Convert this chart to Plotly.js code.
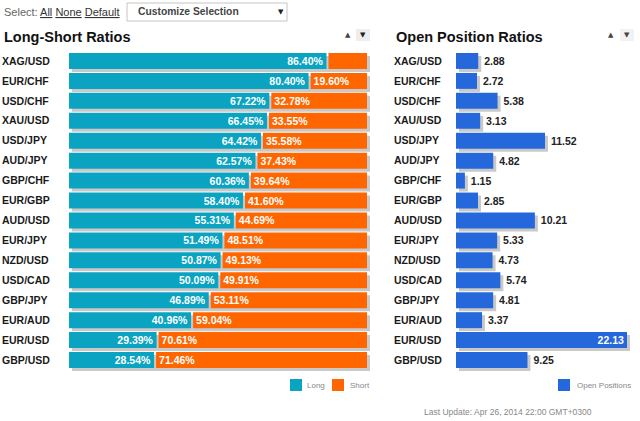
<!DOCTYPE html>
<html>
<head>
<meta charset="utf-8">
<script src="https://cdn.plot.ly/plotly-3.0.1.min.js"></script>
<style>
html,body{margin:0;padding:0;background:#fff;}
#chart{width:640px;height:421px;}
</style>
</head>
<body>
<div id="chart"></div>
<script>
// ---- data ----
const categories = ['XAG/USD','EUR/CHF','USD/CHF','XAU/USD','USD/JPY','AUD/JPY','GBP/CHF','EUR/GBP','AUD/USD','EUR/JPY','NZD/USD','USD/CAD','GBP/JPY','EUR/AUD','EUR/USD','GBP/USD'];
const longPct = [86.40,80.40,67.22,66.45,64.42,62.57,60.36,58.40,55.31,51.49,50.87,50.09,46.89,40.96,29.39,28.54];
const shortPct = [13.60,19.60,32.78,33.55,35.58,37.43,39.64,41.60,44.69,48.51,49.13,49.91,53.11,59.04,70.61,71.46];
const openPositions = [2.88,2.72,5.38,3.13,11.52,4.82,1.15,2.85,10.21,5.33,4.73,5.74,4.81,3.37,22.13,9.25];
const legendLabels = ['Long','Short','Open Positions'];
const footerText = 'Last Update: Apr 26, 2014 22:00 GMT+0300';

// ---- layout helpers ----
const W = 640, H = 421;
const px = x => x / W;
const py = y => 1 - y / H;
const TEAL = '#0aa3c2', ORANGE = '#ff6600', BLUE = '#2468dc', SHADOW = '#c9c9c9';
const FONT = 'Liberation Sans, Arial, sans-serif';

const leftX0 = 69, leftX1 = 367, rightX0 = 456, rightX1 = 627, sh = 3;
const rowTop = 51, rowBot = 370;
const totals = longPct.map((l, i) => l + shortPct[i]);
const gapUnits = 2 * 100 / (leftX1 - leftX0);
const maxOpen = Math.max(...openPositions);

const traces = [
  { type:'bar', orientation:'h', y:categories, x:totals, xaxis:'x', yaxis:'y',
    marker:{color:SHADOW}, hoverinfo:'skip', showlegend:false },
  { type:'bar', orientation:'h', y:categories, x:openPositions, xaxis:'x2', yaxis:'y',
    marker:{color:SHADOW}, hoverinfo:'skip', showlegend:false },
  { type:'bar', orientation:'h', name:legendLabels[0], y:categories, x:longPct, xaxis:'x3', yaxis:'y2',
    marker:{color:TEAL}, text:longPct.map(v => v.toFixed(2) + '%'),
    textposition:'inside', insidetextanchor:'end', constraintext:'none',
    insidetextfont:{family:FONT, size:10.5, color:'#fff', weight:'bold'}, showlegend:false },
  { type:'bar', orientation:'h', name:legendLabels[1], y:categories,
    base:longPct.map(v => v + gapUnits), x:shortPct.map(v => v - gapUnits), xaxis:'x3', yaxis:'y2',
    marker:{color:ORANGE}, text:shortPct.map(v => v >= 15 ? v.toFixed(2) + '%' : ''),
    textposition:'inside', insidetextanchor:'start', constraintext:'none',
    insidetextfont:{family:FONT, size:10.5, color:'#fff', weight:'bold'}, showlegend:false },
  { type:'bar', orientation:'h', name:legendLabels[2], y:categories, x:openPositions, xaxis:'x4', yaxis:'y3',
    marker:{color:BLUE},
    text:openPositions.map(v => (v === maxOpen ? '' : '\u00a0') + v.toFixed(2)),
    textposition:openPositions.map(v => v === maxOpen ? 'inside' : 'outside'),
    insidetextanchor:'end', constraintext:'none', cliponaxis:false,
    insidetextfont:{family:FONT, size:10.5, color:'#fff', weight:'bold'},
    outsidetextfont:{family:FONT, size:10.5, color:'#222', weight:'bold'}, showlegend:false }
];

const hiddenX = {visible:false, fixedrange:true, showgrid:false, zeroline:false};
const catAxis = {type:'category', categoryorder:'array', categoryarray:categories,
  autorange:'reversed', fixedrange:true, showgrid:false, zeroline:false, showline:false, ticks:''};

const labelFont = {family:FONT, size:10.5, color:'#1a1a1a', weight:'bold'};

const layout = {
  width:W, height:H, autosize:false,
  margin:{l:0, r:0, t:0, b:0},
  paper_bgcolor:'#fff', plot_bgcolor:'rgba(0,0,0,0)',
  bargap:0.2, barmode:'overlay', showlegend:false,
  font:{family:FONT, color:'#222'},
  xaxis: Object.assign({}, hiddenX, {domain:[px(leftX0+sh), px(leftX1+sh)], range:[0,100], anchor:'y'}),
  xaxis2:Object.assign({}, hiddenX, {domain:[px(rightX0+sh), px(rightX1+sh)], range:[0,maxOpen], anchor:'y'}),
  xaxis3:Object.assign({}, hiddenX, {domain:[px(leftX0), px(leftX1)], range:[0,100], anchor:'y2'}),
  xaxis4:Object.assign({}, hiddenX, {domain:[px(rightX0), px(rightX1)], range:[0,maxOpen], anchor:'y3'}),
  yaxis: Object.assign({}, catAxis, {domain:[py(rowBot+sh), py(rowTop+sh)], visible:false}),
  yaxis2:Object.assign({}, catAxis, {domain:[py(rowBot), py(rowTop)], anchor:'free', position:0,
    ticklabelposition:'inside', ticklabelstandoff:-2, tickfont:labelFont}),
  yaxis3:Object.assign({}, catAxis, {domain:[py(rowBot), py(rowTop)], anchor:'free', position:px(390),
    ticklabelposition:'inside', ticklabelstandoff:0, tickfont:labelFont}),
  shapes:[
    // dropdown box
    {type:'rect', xref:'paper', yref:'paper', x0:px(127), x1:px(287), y0:py(21), y1:py(3),
      line:{color:'#c4c4c4', width:1}, fillcolor:'#fff'},
    // arrow buttons
    {type:'rect', xref:'paper', yref:'paper', x0:px(356), x1:px(370), y0:py(41), y1:py(29),
      line:{width:0}, fillcolor:'#eeeeee'},
    {type:'rect', xref:'paper', yref:'paper', x0:px(620), x1:px(634), y0:py(41), y1:py(29),
      line:{width:0}, fillcolor:'#f2f2f2'},
    // legend swatches
    {type:'rect', xref:'paper', yref:'paper', x0:px(290), x1:px(302), y0:py(391), y1:py(379),
      line:{width:0}, fillcolor:TEAL},
    {type:'rect', xref:'paper', yref:'paper', x0:px(332), x1:px(344), y0:py(391), y1:py(379),
      line:{width:0}, fillcolor:ORANGE},
    {type:'rect', xref:'paper', yref:'paper', x0:px(558), x1:px(570), y0:py(391), y1:py(379),
      line:{width:0}, fillcolor:BLUE}
  ],
  annotations:[
    {xref:'paper', yref:'paper', x:px(2), y:py(12), xanchor:'left', yanchor:'middle', showarrow:false,
      text:'<span style="fill:#666">Select:</span> <span style="text-decoration:underline">All</span> <span style="text-decoration:underline">None</span> <span style="text-decoration:underline">Default</span>',
      font:{family:FONT, size:11, color:'#333'}},
    {xref:'paper', yref:'paper', x:px(136), y:py(12), xanchor:'left', yanchor:'middle', showarrow:false,
      text:'Customize Selection', font:{family:FONT, size:10.3, color:'#444', weight:'bold'}},
    {xref:'paper', yref:'paper', x:px(281), y:py(12), xanchor:'center', yanchor:'middle', showarrow:false,
      text:'▼', font:{family:'DejaVu Sans', size:7, color:'#222'}},
    {xref:'paper', yref:'paper', x:px(2), y:py(37), xanchor:'left', yanchor:'middle', showarrow:false,
      text:'Long-Short Ratios', font:{family:FONT, size:14.5, color:'#111', weight:'bold'}},
    {xref:'paper', yref:'paper', x:px(394), y:py(37), xanchor:'left', yanchor:'middle', showarrow:false,
      text:'Open Position Ratios', font:{family:FONT, size:14.5, color:'#111', weight:'bold'}},
    {xref:'paper', yref:'paper', x:px(348), y:py(35), xanchor:'center', yanchor:'middle', showarrow:false,
      text:'▲', font:{family:'DejaVu Sans', size:7, color:'#444'}},
    {xref:'paper', yref:'paper', x:px(363), y:py(35), xanchor:'center', yanchor:'middle', showarrow:false,
      text:'▼', font:{family:'DejaVu Sans', size:7, color:'#222'}},
    {xref:'paper', yref:'paper', x:px(611), y:py(35), xanchor:'center', yanchor:'middle', showarrow:false,
      text:'▲', font:{family:'DejaVu Sans', size:7, color:'#444'}},
    {xref:'paper', yref:'paper', x:px(627), y:py(35), xanchor:'center', yanchor:'middle', showarrow:false,
      text:'▼', font:{family:'DejaVu Sans', size:7, color:'#444'}},
    {xref:'paper', yref:'paper', x:px(305), y:py(385), xanchor:'left', yanchor:'middle', showarrow:false,
      text:legendLabels[0], font:{family:FONT, size:8, color:'#888'}},
    {xref:'paper', yref:'paper', x:px(348), y:py(385), xanchor:'left', yanchor:'middle', showarrow:false,
      text:legendLabels[1], font:{family:FONT, size:8, color:'#888'}},
    {xref:'paper', yref:'paper', x:px(575), y:py(385), xanchor:'left', yanchor:'middle', showarrow:false,
      text:legendLabels[2], font:{family:FONT, size:8, color:'#888'}},
    {xref:'paper', yref:'paper', x:px(422), y:py(412), xanchor:'left', yanchor:'middle', showarrow:false,
      text:footerText, font:{family:FONT, size:8.5, color:'#888'}}
  ]
};

Plotly.newPlot('chart', traces, layout, {displayModeBar:false, staticPlot:true});
</script>
</body>
</html>
